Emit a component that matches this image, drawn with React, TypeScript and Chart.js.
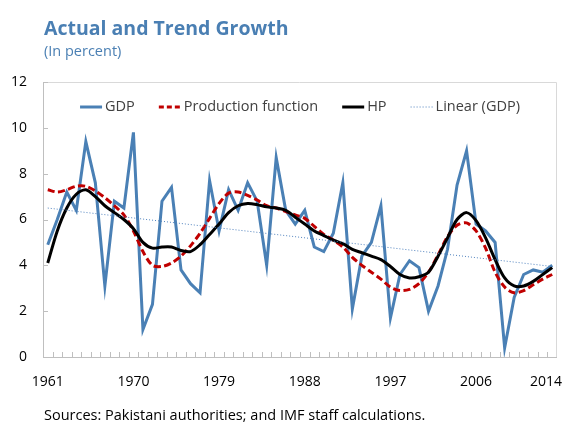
import React, { useEffect, useRef } from "react";
import { Chart, registerables } from "chart.js";

Chart.register(...registerables);

const years: string[] = [
  "1961","1962","1963","1964","1965","1966","1967","1968","1969","1970",
  "1971","1972","1973","1974","1975","1976","1977","1978","1979","1980",
  "1981","1982","1983","1984","1985","1986","1987","1988","1989","1990",
  "1991","1992","1993","1994","1995","1996","1997","1998","1999","2000",
  "2001","2002","2003","2004","2005","2006","2007","2008","2009","2010",
  "2011","2012","2013","2014",
];

const shownYearLabels = ["1961", "1970", "1979", "1988", "1997", "2006", "2014"];

const gdp: number[] = [
  4.9, 6.0, 7.2, 6.4, 9.4, 7.6, 3.1, 6.8, 6.5, 9.8,
  1.2, 2.3, 6.8, 7.4, 3.8, 3.2, 2.8, 7.7, 5.5, 7.3,
  6.4, 7.6, 6.8, 4.0, 8.7, 6.4, 5.8, 6.4, 4.8, 4.6,
  5.4, 7.6, 2.1, 4.4, 5.0, 6.6, 1.7, 3.6, 4.2, 3.9,
  2.0, 3.1, 4.7, 7.5, 9.0, 5.8, 5.5, 5.0, 0.4, 2.6,
  3.6, 3.8, 3.7, 4.0,
];

const productionFunction: number[] = [
  7.3, 7.2, 7.3, 7.45, 7.45, 7.25, 6.95, 6.6, 6.2, 5.5,
  4.6, 4.0, 3.95, 4.1, 4.4, 4.85, 5.4, 6.05, 6.7, 7.15,
  7.2, 7.05, 6.85, 6.6, 6.5, 6.35, 6.2, 6.05, 5.7, 5.35,
  5.1, 4.8, 4.35, 4.0, 3.7, 3.4, 3.05, 2.9, 2.95, 3.2,
  3.7, 4.45, 5.25, 5.75, 5.85, 5.5, 4.75, 3.7, 3.05, 2.8,
  2.9, 3.15, 3.4, 3.6,
];

const hp: number[] = [
  4.1, 5.5, 6.5, 7.1, 7.3, 7.0, 6.6, 6.3, 6.0, 5.6,
  5.0, 4.75, 4.8, 4.8, 4.65, 4.6, 4.9, 5.35, 5.8, 6.3,
  6.6, 6.7, 6.65, 6.55, 6.5, 6.4, 6.1, 5.8, 5.5, 5.3,
  5.1, 4.95, 4.7, 4.55, 4.4, 4.25, 3.95, 3.6, 3.45, 3.5,
  3.7, 4.4, 5.2, 6.0, 6.3, 5.95, 5.2, 4.25, 3.45, 3.1,
  3.1, 3.3, 3.6, 3.9,
];

// Linear trend of GDP: values at the first and last year
const linearTrendEnds: number[] = [6.5, 3.95];

const yTickValues = [0, 2, 4, 6, 8, 10, 12];

const FONT = '"Open Sans", "Noto Sans", sans-serif';

const framePlugin = {
  id: "framePlugin",
  beforeDatasetsDraw(chart: any) {
    const { ctx, chartArea: a, scales } = chart;
    const xs = scales.x;
    const ys = scales.y;
    ctx.save();
    ctx.lineWidth = 1;
    // top and right border
    ctx.strokeStyle = "#d9d9d9";
    ctx.beginPath();
    ctx.moveTo(a.left, a.top + 0.5);
    ctx.lineTo(a.right - 0.5, a.top + 0.5);
    ctx.lineTo(a.right - 0.5, a.bottom);
    ctx.stroke();
    // axes + tick marks (inside)
    ctx.strokeStyle = "#bfbfbf";
    ctx.beginPath();
    ctx.moveTo(a.left + 0.5, a.top);
    ctx.lineTo(a.left + 0.5, a.bottom + 0.5);
    ctx.lineTo(a.right, a.bottom + 0.5);
    yTickValues.forEach((v) => {
      const py = Math.round(ys.getPixelForValue(v)) + 0.5;
      ctx.moveTo(a.left, py);
      ctx.lineTo(a.left + 5, py);
    });
    for (let i = 1; i < years.length; i++) {
      const px = Math.round((xs.getPixelForValue(i - 1) + xs.getPixelForValue(i)) / 2) + 0.5;
      ctx.moveTo(px, a.bottom);
      ctx.lineTo(px, a.bottom - 5);
    }
    ctx.stroke();

    // x-axis year labels (last one kept inside the canvas, as in the original)
    ctx.font = `14px ${FONT}`;
    ctx.fillStyle = "#000000";
    ctx.textAlign = "left";
    ctx.textBaseline = "alphabetic";
    years.forEach((yr, i) => {
      if (!shownYearLabels.includes(yr)) return;
      const w = ctx.measureText(yr).width;
      let left = xs.getPixelForValue(i) - w / 2;
      const maxRight = chart.width - 2;
      if (left + w > maxRight) left = maxRight - w;
      ctx.fillText(yr, left, a.bottom + 29);
    });
    ctx.restore();
  },
  afterDraw(chart: any) {
    const { ctx, chartArea: a } = chart;
    ctx.save();
    ctx.font = `14.5px ${FONT}`;
    ctx.textBaseline = "middle";
    ctx.textAlign = "left";
    const items = chart.data.datasets.map((ds: any) => ({
      label: ds.label,
      color: ds.borderColor,
      dash: ds.legendDash || ds.borderDash || [],
      width: ds.borderWidth,
    }));
    const lineLen = 22;
    const gapText = 3;
    const gapItem = 24;
    const widths = items.map((it: any) => lineLen + gapText + ctx.measureText(it.label).width);
    const total = widths.reduce((s: number, w: number) => s + w, 0) + gapItem * (items.length - 1);
    let x0 = (a.left + a.right) / 2 - total / 2;
    const yc = a.top + 25;
    items.forEach((it: any, i: number) => {
      ctx.strokeStyle = it.color;
      ctx.lineWidth = it.width;
      ctx.setLineDash(it.dash);
      ctx.beginPath();
      ctx.moveTo(x0, yc);
      ctx.lineTo(x0 + lineLen, yc);
      ctx.stroke();
      ctx.setLineDash([]);
      ctx.fillStyle = "#404040";
      ctx.fillText(it.label, x0 + lineLen + gapText, yc);
      x0 += widths[i] + gapItem;
    });
    ctx.restore();
  },
};

export default function App() {
  const canvasRef = useRef<HTMLCanvasElement | null>(null);

  useEffect(() => {
    if (!canvasRef.current) return;
    const n = years.length;
    const linearData = years.map((_, i) =>
      i === 0 ? linearTrendEnds[0] : i === n - 1 ? linearTrendEnds[1] : null
    );
    const chart = new Chart(canvasRef.current, {
      type: "line",
      data: {
        labels: years,
        datasets: [
          {
            label: "GDP",
            data: gdp,
            borderColor: "#4a80b5",
            borderWidth: 3,
            pointRadius: 0,
            tension: 0,
            order: 4,
          } as any,
          {
            label: "Production function",
            data: productionFunction,
            borderColor: "#c00000",
            borderWidth: 3,
            borderDash: [7, 3.5],
            legendDash: [5, 3],
            pointRadius: 0,
            tension: 0.3,
            order: 3,
          },
          {
            label: "HP",
            data: hp,
            borderColor: "#000000",
            borderWidth: 3,
            pointRadius: 0,
            tension: 0.3,
            order: 2,
          },
          {
            label: "Linear (GDP)",
            data: linearData,
            borderColor: "#4f81bd",
            borderWidth: 1,
            borderDash: [1, 2],
            pointRadius: 0,
            spanGaps: true,
            order: 1,
          },
        ],
      },
      options: {
        animation: false,
        responsive: false,
        devicePixelRatio: 1,
        layout: { padding: { top: 82, right: 7, bottom: 27, left: 0 } },
        plugins: {
          legend: { display: false },
          tooltip: { enabled: false },
          title: { display: false },
        },
        scales: {
          x: {
            type: "category",
            offset: true,
            border: { display: false },
            grid: { display: false, drawTicks: false },
            ticks: { display: false, autoSkip: false },
            afterFit: (axis: any) => {
              axis.height = 40;
              axis.paddingLeft = 0;
              axis.paddingRight = 0;
            },
          },
          y: {
            min: 0,
            max: 12,
            border: { display: false },
            grid: { display: false, drawTicks: false },
            ticks: {
              stepSize: 2,
              padding: 16,
              color: "#000000",
              font: { family: FONT, size: 14 },
            },
            afterFit: (axis: any) => {
              axis.width = 43;
              axis.paddingTop = 0;
              axis.paddingBottom = 0;
            },
          },
        },
      } as any,
      plugins: [framePlugin],
    });
    return () => chart.destroy();
  }, []);

  return (
    <div
      style={{
        position: "fixed",
        left: 0,
        top: 0,
        width: 564,
        height: 424,
        background: "#ffffff",
        overflow: "hidden",
      }}
    >
      <canvas
        ref={canvasRef}
        width={564}
        height={424}
        style={{ position: "absolute", left: 0, top: 0, width: 564, height: 424 }}
      />
      <div
        style={{
          position: "absolute",
          left: 44,
          top: 18,
          fontFamily: FONT,
          fontWeight: 700,
          fontSize: 19.5,
          lineHeight: 1,
          color: "#4a7fb3",
          whiteSpace: "nowrap",
        }}
      >
        Actual and Trend Growth
      </div>
      <div
        style={{
          position: "absolute",
          left: 44,
          top: 44,
          fontFamily: FONT,
          fontSize: 14.5,
          lineHeight: 1,
          color: "#4a7fb3",
          whiteSpace: "nowrap",
        }}
      >
        (In percent)
      </div>
      <div
        style={{
          position: "absolute",
          left: 44,
          top: 408,
          fontFamily: FONT,
          fontSize: 14.5,
          lineHeight: 1,
          color: "#000000",
          whiteSpace: "nowrap",
        }}
      >
        Sources: Pakistani authorities; and IMF staff calculations.
      </div>
    </div>
  );
}
